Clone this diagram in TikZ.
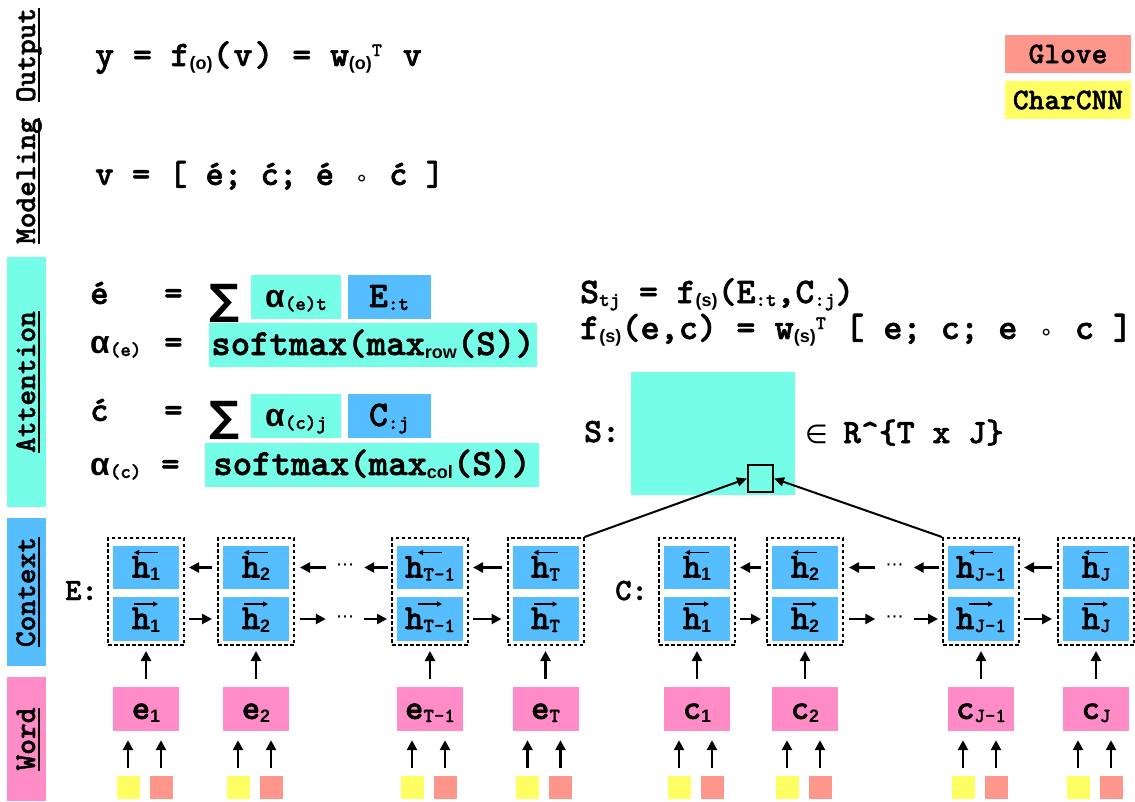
\documentclass[tikz,border=0pt]{standalone}
\usepackage{fontspec}
\usetikzlibrary{arrows.meta,calc}
\newfontfamily\cour{lmmonolt10-bold.otf}[FakeBold=1.5]
\newfontfamily\arial{Liberation Sans}
\newfontfamily\dejavu{DejaVu Sans}

\definecolor{cyanA}{RGB}{118,253,232}
\definecolor{blueA}{RGB}{86,190,255}
\definecolor{pinkA}{RGB}{255,140,198}
\definecolor{salmonA}{RGB}{255,150,140}
\definecolor{yellowA}{RGB}{255,255,100}

% text helpers
\newcommand\FM{\fontsize{35}{36}\cour}
\newcommand\FW{\fontsize{36}{37}\cour}
\newcommand\FX{\fontsize{37}{38}\cour}
\newcommand\LB{\fontsize{30}{30}\cour}
\newcommand\xsubm[1]{\raisebox{-3pt}{\fontsize{20}{20}\cour #1}}
\newcommand\xsubs[1]{\raisebox{-3pt}{\fontsize{18}{18}\arial\bfseries #1}}
\newcommand\xsup[1]{\raisebox{10pt}{\fontsize{19}{19}\cour #1}}
\newcommand\xalpha{{\fontsize{32}{32}\arial\bfseries α}}
\newcommand\xring{\makebox[0.525em]{\fontsize{22}{22}\dejavu ∘}}
\newcommand\xsum{{\fontsize{42}{42}\dejavu\bfseries ∑}}
\newcommand\xul[1]{\setbox0=\hbox{#1}\rlap{\rule[-5pt]{\wd0}{2pt}}\box0}

% one bidirectional context column: backward cell, forward cell, dashed frame
\newcommand\ctxcol[3]{%
  \node[hbox] (#1b) at (#2,567.5) {h#3};
  \node[hbox] (#1f) at (#2,619) {h#3};
  \node[dbox] (#1) at (#2,591.5) {};
  \draw[hl] ($(#1b.north)+(12,7)$) -- ($(#1b.north)+(-12,7)$);
  \draw[hl] ($(#1f.north)+(-12,7)$) -- ($(#1f.north)+(12,7)$);
}
% one word cell with its two embeddings, feeding the column above
\newcommand\wordcol[4]{%
  \node[wbox] (#1) at (#2,709) {#3};
  \node[ysq] (#1y) at ({#2-18},787.5) {};
  \node[gsq] (#1g) at ({#2+15},787.5) {};
  \draw[arr, shorten <=8pt, shorten >=9pt] (#1y.north) -- (#1y.north |- #1.south);
  \draw[arr, shorten <=8pt, shorten >=9pt] (#1g.north) -- (#1g.north |- #1.south);
  \draw[arr, shorten <=8pt, shorten >=5pt] (#1.north) -- (#1.north |- #4.south);
}
% recurrent links between two neighbouring columns
\newcommand\linkcols[2]{%
  \draw[arr, shorten <=5pt, shorten >=4pt] (#2b.center -| #2.west) -- (#1b.center -| #1.east);
  \draw[arr, shorten <=4pt, shorten >=5pt] (#1f.center -| #1.east) -- (#2f.center -| #2.west);
}

\begin{document}
\begin{tikzpicture}[x=1pt,y=-1pt,
  lab/.style={rotate=90, anchor=base, font=\LB, inner sep=0pt},
  txt/.style={anchor=base west, font=\FM, inner sep=0pt},
  boxtext/.style={inner sep=0pt, font=\FM, text height=24pt, text depth=4pt, minimum height=43.5pt},
  cbox/.style={boxtext, fill=cyanA},
  bbox/.style={boxtext, fill=blueA},
  hbox/.style={boxtext, fill=blueA, minimum width=66pt},
  wbox/.style={boxtext, fill=pinkA, minimum width=66pt, minimum height=44pt},
  dbox/.style={draw, line width=2pt, dash pattern=on 3.5pt off 2.5pt, minimum width=76pt, minimum height=107pt, inner sep=0pt},
  ysq/.style={fill=yellowA, minimum size=23pt, inner sep=0pt},
  gsq/.style={fill=salmonA, minimum size=23pt, inner sep=0pt},
  lg/.style={font=\LB, minimum width=126pt, minimum height=38pt, inner sep=0pt},
  dots/.style={font=\fontsize{18}{18}\dejavu, inner sep=0pt, minimum width=18pt},
  arr/.style={line width=2.5pt, -{Triangle[length=10pt,width=10pt]}},
  arrs/.style={line width=2pt, -{Triangle[length=10pt,width=9pt]}},
  hl/.style={line width=1.3pt, -{Triangle[length=5pt,width=5pt]}}]
\useasboundingbox (0,0) rectangle (1135,801);

% layer bars and their names
\fill[cyanA] (7,257) rectangle (46,507);
\fill[blueA] (7,518) rectangle (46,666);
\fill[pinkA] (7,677) rectangle (46,801);
\node[lab] (lOut) at (35,55) {\xul{Output}};
\node[lab] (lMod) at (35,181) {\xul{Modeling}};
\node[lab] (lAtt) at (35,382) {\xul{Attention}};
\node[lab] (lCtx) at (35,592) {\xul{Context}};
\node[lab] (lWrd) at (35,739) {\xul{Word}};

% legend
\node[lg, fill=salmonA] (glove) at (1068,54) {Glove};
\node[lg, fill=yellowA] (charcnn) at (1068,100) {CharCNN};

% output and modeling layers
\node[txt, font=\FW] (fOut) at (95,66) {y = f\xsubs{(o)}(\kern2pt v\kern2pt) = w\xsubs{(o)}\xsup{T}\kern2pt\ v};
\node[txt] (fMod) at (95,185) {v = [ é; ć; é \xring{} ć ]};

% attention layer
\node[txt] (eAcc) at (90,304) {é};
\node[txt] (eq1) at (164,304) {=};
\node[anchor=base, inner sep=0pt] (sum1) at (225,314) {\xsum};
\node[cbox, minimum width=90pt] (aet) at (296,297) {\xalpha\xsubm{(e)t}};
\node[bbox, minimum width=83pt, font=\FW] (Et) at (389,297) {E\xsubm{:t}};
\node[txt] (ae) at (90,353) {\xalpha\xsubm{(e)}};
\node[txt] (eq2) at (164,353) {=};
\node[cbox, minimum width=328pt, font=\FX] (smr) at (373,345) {softmax(max\xsubs{row}(S))};

\node[txt] (cAcc) at (90,421) {ć};
\node[txt] (eq3) at (164,421) {=};
\node[anchor=base, inner sep=0pt] (sum2) at (225,431) {\xsum};
\node[cbox, minimum width=90pt] (acj) at (296,416) {\xalpha\xsubm{(c)j}};
\node[bbox, minimum width=83pt, font=\FW] (Cj) at (389,416) {C\xsubm{:j}};
\node[txt] (ac) at (90,475) {\xalpha\xsubm{(c)}};
\node[txt] (eq4) at (161,475) {=};
\node[cbox, minimum width=334pt, font=\FX] (smc) at (372,465) {softmax(max\xsubs{col}(S))};

% similarity matrix
\node[txt, font=\FW] (fS1) at (580,303) {S\xsubm{tj} = f\xsubs{(s)}(E\xsubm{:t},C\xsubm{:j})};
\node[txt, font=\fontsize{36.5}{37}\cour] (fS2) at (580,339) {f\xsubs{(s)}(e,c) = w\xsubs{(s)}\xsup{T} [ e; c; e \xring{} c ]};
\node[txt, font=\fontsize{34}{34}\cour] (Slab) at (584,442) {S:};
\node[fill=cyanA, minimum width=164pt, minimum height=123pt, inner sep=0pt] (S) at (713,433.5) {};
\node[draw, line width=2pt, fill=cyanA, minimum width=25pt, minimum height=27pt, inner sep=0pt] (sq) at (760.5,478.5) {};
\node[txt, font=\fontsize{26}{26}\dejavu] (inR) at (805,443) {∈};
\node[txt, font=\fontsize{34}{34}\cour] (dim) at (843,443) {R\textasciicircum\{T x J\}};

% contextual layer
\node[txt, font=\fontsize{31}{31}\cour] (Elab) at (65,600) {E:};
\node[txt, font=\fontsize{31}{31}\cour] (Clab) at (615,600) {C:};
\ctxcol{E1}{146}{\xsubs{1}}
\ctxcol{E2}{256}{\xsubs{2}}
\ctxcol{Ea}{430}{\xsubm{T-1}}
\ctxcol{Eb}{545.5}{\xsubm{T}}
\ctxcol{C1}{697}{\xsubs{1}}
\ctxcol{C2}{805}{\xsubs{2}}
\ctxcol{Ca}{981}{\xsubm{J-1}}
\ctxcol{Cb}{1096}{\xsubm{J}}

\linkcols{E1}{E2}
\linkcols{Ea}{Eb}
\linkcols{C1}{C2}
\linkcols{Ca}{Cb}

\node[dots] (dEt) at (345,567.5) {⋯};
\node[dots] (dEf) at (345,619) {⋯};
\node[dots] (dCt) at (894.5,567.5) {⋯};
\node[dots] (dCf) at (894.5,619) {⋯};
\draw[arr, shorten <=10pt, shorten >=5pt] (dEt.west) -- (E2b.center -| E2.east);
\draw[arr, shorten <=3pt, shorten >=10pt] (Eab.center -| Ea.west) -- (dEt.east);
\draw[arr, shorten <=5pt, shorten >=10pt] (E2f.center -| E2.east) -- (dEf.west);
\draw[arr, shorten <=10pt, shorten >=4pt] (dEf.east) -- (Eaf.center -| Ea.west);
\draw[arr, shorten <=10pt, shorten >=5pt] (dCt.west) -- (C2b.center -| C2.east);
\draw[arr, shorten <=3pt, shorten >=10pt] (Cab.center -| Ca.west) -- (dCt.east);
\draw[arr, shorten <=5pt, shorten >=10pt] (C2f.center -| C2.east) -- (dCf.west);
\draw[arr, shorten <=10pt, shorten >=4pt] (dCf.east) -- (Caf.center -| Ca.west);

% attention links into one cell of S
\draw[arrs] (Eb.north east) -- (sq.west);
\draw[arrs] (Ca.north west) -- (sq.east);

% word layer
\wordcol{e1}{146}{e\xsubs{1}}{E1}
\wordcol{e2}{256}{e\xsubs{2}}{E2}
\wordcol{ea}{430}{e\xsubm{T-1}}{Ea}
\wordcol{eb}{545.5}{e\xsubm{T}}{Eb}
\wordcol{c1}{697}{c\xsubs{1}}{C1}
\wordcol{c2}{805}{c\xsubs{2}}{C2}
\wordcol{ca}{981}{c\xsubm{J-1}}{Ca}
\wordcol{cb}{1096}{c\xsubm{J}}{Cb}
\end{tikzpicture}
\end{document}
